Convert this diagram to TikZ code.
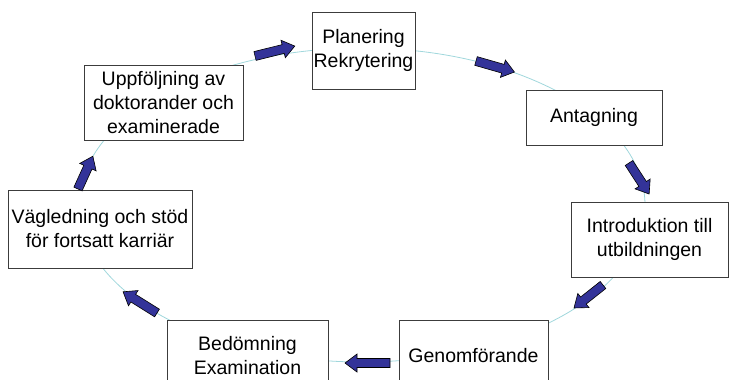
\documentclass[tikz,border=0pt]{standalone}
\usepackage{fontspec}
\setmainfont{Liberation Sans}
\definecolor{ringcol}{RGB}{160,215,220}
\definecolor{arrowblue}{RGB}{51,51,153}
\definecolor{boxline}{RGB}{60,60,60}
\begin{document}
\begin{tikzpicture}[x=1pt,y=-1pt,
  stagebox/.style={draw=boxline,line width=0.9pt,fill=white,align=center,inner sep=0pt,
    font=\fontsize{19.5}{24}\selectfont},
  barrow/.style={draw=black,line width=0.6pt,fill=arrowblue,line join=miter}]
\useasboundingbox (0,0) rectangle (732,380);
\clip (0,0) rectangle (732,380);
\draw[ringcol,line width=0.8pt] (362,205) ellipse [x radius=283pt, y radius=157pt];
\node[stagebox,minimum width=103pt,minimum height=77pt] (plan) at (363.5,50.5) {Planering\\Rekrytering};
\node[stagebox,minimum width=136pt,minimum height=55pt] (antag) at (594,117.5) {Antagning};
\node[stagebox,minimum width=157pt,minimum height=75pt] (intro) at (649.5,239.5) {Introduktion till\\utbildningen};
\node[stagebox,minimum width=149pt,minimum height=72pt] (genom) at (473.5,356) {Genomförande};
\node[stagebox,minimum width=161pt,minimum height=72pt] (bedom) at (247.5,356) {Bedömning\\Examination};
\node[stagebox,minimum width=184pt,minimum height=78pt] (vagl) at (100,229) {Vägledning och stöd\\för fortsatt karriär};
\node[stagebox,minimum width=159pt,minimum height=75pt] (uppf) at (163.5,102.5) {Uppföljning av\\doktorander och\\examinerade};
\foreach \px/\py/\ang/\len in {255/56/14/41, 476/61/-16/40, 629/163/-57/37, 603/285/-141.6/37,
  390/363/180/45, 157/313/148/40, 78/189/65.6/36}{
  \draw[barrow,shift={(\px,\py)},rotate=\ang]
    (0,-4.5) -- (\len-12,-4.5) -- (\len-12,-9) -- (\len,0) -- (\len-12,9) -- (\len-12,4.5) -- (0,4.5) -- cycle;
}
\end{tikzpicture}
\end{document}
